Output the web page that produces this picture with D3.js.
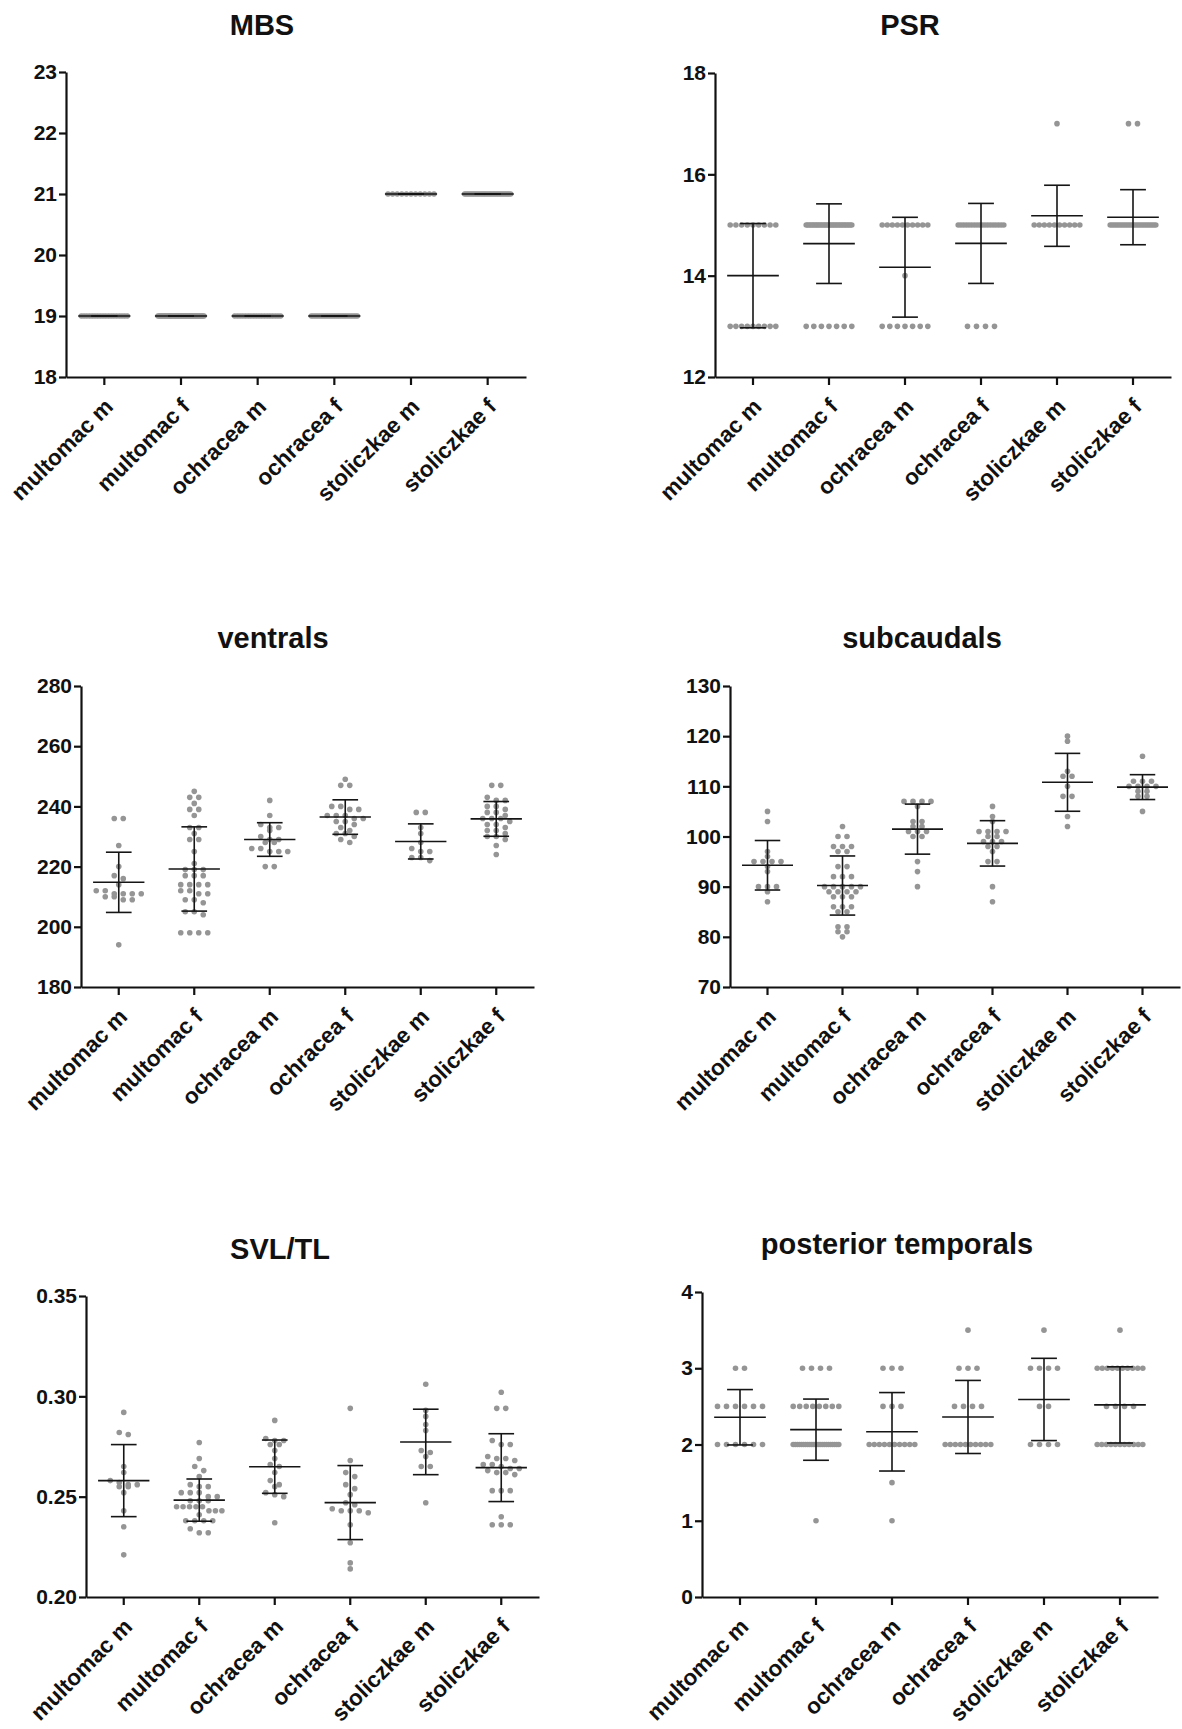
<!DOCTYPE html>
<html lang="en">
<head>
  <meta charset="UTF-8">
  <title>Scale counts by group</title>
  <script src="https://d3js.org/d3.v7.min.js"></script>
  <style>
    body { margin:0; background:#fff; }
    svg { display:block; }
    text { font-family: 'Liberation Sans', Arial, sans-serif; font-weight: bold; fill: #111; }
    .ytick text { font-size: 21px; }
    .xlab { font-size: 22.5px; }
    .ttl { font-size: 29px; }
  </style>
</head>
<body>
  <svg width="1182" height="1729"></svg>
  <script>
    const categories = ['multomac m', 'multomac f', 'ochracea m', 'ochracea f', 'stoliczkae m', 'stoliczkae f']

    // MBS (midbody scale rows)
    const mbs = [
      [19, 19, 19, 19, 19, 19, 19, 19, 19, 19, 19, 19, 19, 19, 19, 19, 19, 19],
      [19, 19, 19, 19, 19, 19, 19, 19, 19, 19, 19, 19, 19, 19, 19, 19, 19, 19, 19,
       19, 19, 19, 19, 19, 19, 19, 19, 19, 19, 19, 19, 19, 19, 19, 19, 19, 19, 19],
      [19, 19, 19, 19, 19, 19, 19, 19, 19, 19, 19, 19, 19, 19, 19, 19, 19, 19],
      [19, 19, 19, 19, 19, 19, 19, 19, 19, 19, 19, 19, 19, 19, 19, 19, 19, 19, 19, 19, 19, 19],
      [21, 21, 21, 21, 21, 21, 21, 21, 21, 21, 21],
      [21, 21, 21, 21, 21, 21, 21, 21, 21, 21, 21, 21, 21, 21, 21, 21, 21, 21, 21, 21, 21, 21, 21, 21, 21, 21]
    ]

    // PSR
    const psr = [
      [15, 15, 15, 15, 15, 15, 15, 15, 15, 13, 13, 13, 13, 13, 13, 13, 13, 13],
      [15, 15, 15, 15, 15, 15, 15, 15, 15, 15, 15, 15, 15, 15, 15, 15, 15, 15, 15, 15,
       15, 15, 15, 15, 15, 15, 15, 15, 15, 15, 15, 13, 13, 13, 13, 13, 13, 13],
      [15, 15, 15, 15, 15, 15, 15, 15, 15, 15, 14, 13, 13, 13, 13, 13, 13, 13],
      [15, 15, 15, 15, 15, 15, 15, 15, 15, 15, 15, 15, 15, 15, 15, 15, 15, 15, 13, 13, 13, 13],
      [17, 15, 15, 15, 15, 15, 15, 15, 15, 15, 15],
      [17, 17, 15, 15, 15, 15, 15, 15, 15, 15, 15, 15, 15, 15, 15, 15, 15, 15, 15, 15, 15, 15, 15, 15, 15, 15]
    ]

    // ventrals
    const ventrals = [
      [236, 236, 227, 220, 217, 216, 214, 212, 212, 211, 211, 211, 211, 210, 210, 209, 209, 194],
      [245, 243, 243, 241, 239, 239, 237, 233, 233, 231, 229, 229, 225, 221, 219, 219, 219, 217, 217,
       217, 214, 214, 214, 214, 212, 212, 211, 211, 209, 209, 208, 205, 205, 204, 198, 198, 198, 198],
      [242, 237, 234, 233, 233, 232, 230, 229, 229, 228, 228, 226, 226, 225, 225, 225, 220, 220],
      [249, 247, 247, 240, 240, 239, 239, 237, 237, 237, 236, 236, 235, 235, 234, 233, 232, 231, 231, 230, 229, 228],
      [238, 238, 233, 231, 228, 226, 225, 225, 223, 223, 222],
      [247, 247, 243, 242, 242, 240, 240, 239, 238, 238, 237, 236, 236, 236, 235, 234, 234, 233, 232, 232, 231, 230, 230, 229, 227, 224]
    ]

    // subcaudals
    const subcaudals = [
      [105, 103, 97, 96, 95, 95, 95, 95, 94, 93, 90, 90, 90, 89, 87],
      [102, 100, 100, 98, 98, 98, 97, 97, 94, 94, 92, 92, 92, 90, 90, 90, 90, 90, 89, 89, 89, 89,
       88, 88, 88, 86, 86, 86, 85, 85, 82, 82, 81, 81, 80],
      [107, 107, 107, 107, 106, 103, 103, 102, 102, 101, 101, 101, 100, 100, 95, 93, 90],
      [106, 104, 103, 101, 101, 101, 101, 100, 100, 99, 99, 99, 98, 98, 97, 95, 95, 90, 87],
      [120, 119, 113, 112, 112, 110, 108, 108, 104, 102],
      [116, 111, 111, 111, 110, 110, 110, 110, 109, 109, 108, 108, 105]
    ]

    // SVL/TL
    const svlTl = [
      [0.292, 0.282, 0.281, 0.265, 0.262, 0.258, 0.257, 0.256, 0.256, 0.255, 0.255, 0.252, 0.243, 0.235, 0.221],
      [0.277, 0.269, 0.265, 0.263, 0.260, 0.256, 0.255, 0.255, 0.252, 0.252, 0.252, 0.250, 0.250, 0.248, 0.248, 0.248,
       0.245, 0.245, 0.245, 0.245, 0.245, 0.243, 0.243, 0.243, 0.241, 0.238, 0.238, 0.238, 0.238, 0.234, 0.232, 0.232],
      [0.288, 0.279, 0.278, 0.278, 0.276, 0.276, 0.273, 0.269, 0.266, 0.265, 0.262, 0.258, 0.256, 0.255, 0.252, 0.251, 0.250, 0.237],
      [0.294, 0.268, 0.262, 0.260, 0.256, 0.254, 0.251, 0.247, 0.246, 0.244, 0.243, 0.243, 0.243, 0.242, 0.236, 0.227, 0.217, 0.214],
      [0.306, 0.293, 0.290, 0.286, 0.283, 0.273, 0.272, 0.270, 0.265, 0.265, 0.247],
      [0.302, 0.294, 0.294, 0.278, 0.276, 0.276, 0.270, 0.269, 0.269, 0.268, 0.266, 0.266, 0.265, 0.264, 0.264, 0.263,
       0.262, 0.262, 0.261, 0.253, 0.253, 0.253, 0.240, 0.236, 0.236, 0.236]
    ]

    // posterior temporals
    const temporals = [
      [3, 3, 2.5, 2.5, 2.5, 2.5, 2.5, 2.5, 2, 2, 2, 2, 2, 2],
      [3, 3, 3, 3, 2.5, 2.5, 2.5, 2.5, 2.5, 2.5, 2.5, 2.5, 2, 2, 2, 2, 2, 2, 2, 2, 2, 2, 2, 2,
       2, 2, 2, 2, 2, 2, 2, 2, 2, 2, 2, 1],
      [3, 3, 3, 2.5, 2.5, 2.5, 2, 2, 2, 2, 2, 2, 2, 2, 2, 2, 1.5, 1],
      [3.5, 3, 3, 3, 2.5, 2.5, 2.5, 2.5, 2, 2, 2, 2, 2, 2, 2, 2, 2, 2],
      [3.5, 3, 3, 3, 3, 2.5, 2.5, 2, 2, 2, 2],
      [3.5, 3, 3, 3, 3, 3, 3, 3, 3, 3, 3, 2.5, 2.5, 2.5, 2.5, 2, 2, 2, 2, 2, 2, 2, 2, 2, 2, 2]
    ]

    const mbsTicks = [18, 19, 20, 21, 22, 23]
    const psrTicks = [12, 14, 16, 18]
    const ventralTicks = [180, 200, 220, 240, 260, 280]
    const subcaudalTicks = [70, 80, 90, 100, 110, 120, 130]
    const svlTicks = [0.20, 0.25, 0.30, 0.35]
    const temporalTicks = [0, 1, 2, 3, 4]

    const panels = [
      { title: 'MBS', data: mbs, ticks: mbsTicks, fmt: d3.format('d'),
        left: 66, right: 526, top: 72, bottom: 377, tx: 262, ty: 35 },
      { title: 'PSR', data: psr, ticks: psrTicks, fmt: d3.format('d'),
        left: 715, right: 1171, top: 73, bottom: 377, tx: 910, ty: 35 },
      { title: 'ventrals', data: ventrals, ticks: ventralTicks, fmt: d3.format('d'),
        left: 81, right: 534, top: 686, bottom: 987, tx: 273, ty: 648 },
      { title: 'subcaudals', data: subcaudals, ticks: subcaudalTicks, fmt: d3.format('d'),
        left: 730, right: 1180, top: 686, bottom: 987, tx: 922, ty: 648 },
      { title: 'SVL/TL', data: svlTl, ticks: svlTicks, fmt: d3.format('.2f'),
        left: 86, right: 539, top: 1296, bottom: 1597, tx: 280, ty: 1259 },
      { title: 'posterior temporals', data: temporals, ticks: temporalTicks, fmt: d3.format('d'),
        left: 702, right: 1158, top: 1292, bottom: 1597, tx: 897, ty: 1254 }
    ]

    const svg = d3.select('svg')

    // put points of similar height in rows, centred on the column
    function layoutRows (pys, maxHalf) {
      const s = 9
      const binH = 4.5
      const pts = pys.map(py => ({ py })).sort((a, b) => a.py - b.py)
      const rows = []
      pts.forEach(p => {
        const row = rows[rows.length - 1]
        if (row && p.py - row[0].py < binH) row.push(p)
        else rows.push([p])
      })
      rows.forEach(row => {
        const k = row.length
        const sp = k > 1 ? Math.min(s, 2 * maxHalf / (k - 1)) : 0
        row.forEach((p, j) => { p.dx = (j - (k - 1) / 2) * sp })
      })
      return pts
    }

    function drawPanel (p) {
      const g = svg.append('g')
      const x = d3.scaleBand().domain(categories).range([p.left, p.right]).padding(0)
      const y = d3.scaleLinear().domain([p.ticks[0], p.ticks[p.ticks.length - 1]]).range([p.bottom, p.top])
      const step = x.bandwidth()
      const cx = c => x(c) + step / 2

      // dots
      p.data.forEach((vals, i) => {
        const pts = layoutRows(vals.map(v => y(v)), step * 0.3)
        g.append('g').selectAll('circle')
          .data(pts)
          .enter()
          .append('circle')
          .attr('cx', d => cx(categories[i]) + d.dx)
          .attr('cy', d => d.py)
          .attr('r', 2.8)
          .attr('fill', '#959595')
      })

      // mean and SD
      const stats = p.data.map((vals, i) => ({
        c: categories[i],
        m: d3.mean(vals),
        sd: d3.deviation(vals) || 0
      }))
      const bars = g.append('g').attr('stroke', '#151515').attr('stroke-width', 1.6)
      stats.forEach(s => {
        const xc = cx(s.c)
        bars.append('line').attr('x1', xc - step * 0.34).attr('x2', xc + step * 0.34)
          .attr('y1', y(s.m)).attr('y2', y(s.m))
        bars.append('line').attr('x1', xc).attr('x2', xc)
          .attr('y1', y(s.m - s.sd)).attr('y2', y(s.m + s.sd))
        ;[s.m - s.sd, s.m + s.sd].forEach(v => {
          bars.append('line').attr('x1', xc - step * 0.17).attr('x2', xc + step * 0.17)
            .attr('y1', y(v)).attr('y2', y(v))
        })
      })

      // axes
      const yAxis = d3.axisLeft(y).tickValues(p.ticks).tickFormat(p.fmt)
        .tickSize(7).tickSizeOuter(0).tickPadding(2)
      const yg = g.append('g').attr('class', 'ytick')
        .attr('transform', 'translate(' + [p.left, 0] + ')')
        .call(yAxis)
      const xAxis = d3.axisBottom(x).tickSize(8).tickSizeOuter(0).tickFormat('')
      const xg = g.append('g')
        .attr('transform', 'translate(' + [0, p.bottom] + ')')
        .call(xAxis)
      ;[yg, xg].forEach(a => {
        a.selectAll('path, line').attr('stroke', '#111').attr('stroke-width', 2.2)
      })
      yg.selectAll('text').attr('fill', '#111')

      g.selectAll('.xlab')
        .data(categories)
        .enter()
        .append('text')
        .attr('class', 'xlab')
        .attr('text-anchor', 'end')
        .attr('transform', c => 'translate(' + [cx(c) + 10, p.bottom + 31] + ') rotate(-45)')
        .text(c => c)

      g.append('text')
        .attr('class', 'ttl')
        .attr('x', p.tx)
        .attr('y', p.ty)
        .attr('text-anchor', 'middle')
        .text(p.title)
    }

    panels.forEach(drawPanel)
  </script>
</body>
</html>
